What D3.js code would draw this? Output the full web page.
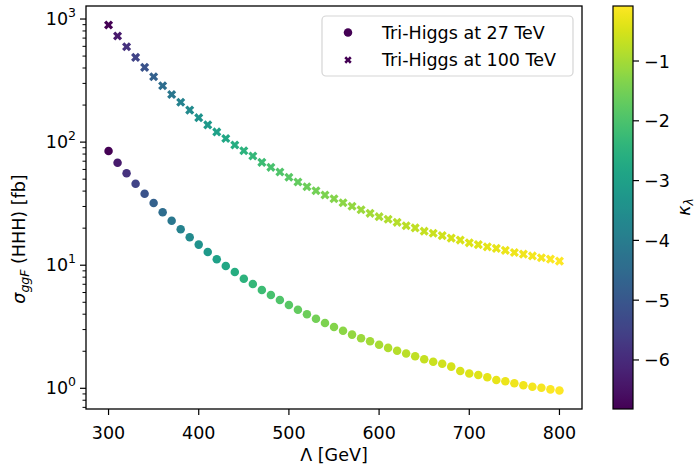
<!DOCTYPE html>
<html>
<head>
<script src="https://d3js.org/d3.v7.min.js"></script>
<style>
  body { margin: 0; background: #fff; }
  svg text { font-family: "DejaVu Sans", sans-serif; fill: #000; }
</style>
</head>
<body>
<svg id="chart"></svg>
<script>
// Λ values (GeV)
const lambdaVals = [300, 310, 320, 330, 340, 350, 360, 370, 380, 390, 400, 410, 420, 430, 440, 450, 460, 470, 480, 490,
  500, 510, 520, 530, 540, 550, 560, 570, 580, 590, 600, 610, 620, 630, 640, 650, 660, 670, 680, 690,
  700, 710, 720, 730, 740, 750, 760, 770, 780, 790, 800];

// κλ colour values
const kappaVals = [-6.82, -6.32, -5.87, -5.46, -5.09, -4.75, -4.43, -4.14, -3.87, -3.63, -3.40, -3.19, -2.99, -2.81, -2.64, -2.48, -2.33, -2.19, -2.05, -1.93,
  -1.82, -1.71, -1.60, -1.51, -1.41, -1.33, -1.24, -1.17, -1.09, -1.02, -0.96, -0.89, -0.83, -0.77, -0.72, -0.67, -0.62, -0.57, -0.52, -0.48,
  -0.44, -0.40, -0.36, -0.32, -0.29, -0.25, -0.22, -0.19, -0.16, -0.13, -0.08];

// σ(HHH) at 27 TeV [fb]
const sigma27 = [84.7, 68.0, 55.8, 45.9, 38.1, 32.0, 26.9, 23.0, 19.6, 16.9, 14.7, 12.8, 11.2, 9.86, 8.81, 7.77, 7.03, 6.29, 5.73, 5.21,
  4.75, 4.35, 3.99, 3.68, 3.39, 3.15, 2.94, 2.73, 2.55, 2.41, 2.26, 2.13, 2.02, 1.92, 1.82, 1.72, 1.64, 1.58, 1.50, 1.38,
  1.32, 1.28, 1.23, 1.17, 1.14, 1.10, 1.06, 1.03, 1.01, 0.98, 0.96];

// σ(HHH) at 100 TeV [fb]
const sigma100 = [895, 728, 596, 488, 405, 340, 287, 244, 211, 182, 158, 138, 121, 107, 94.7, 85.1, 77.1, 68.5, 62.4, 57.2,
  51.8, 47.4, 43.4, 40.3, 37.2, 34.7, 32.2, 30.1, 28.2, 26.4, 24.8, 23.6, 22.3, 20.9, 20.1, 18.9, 18.2, 17.4, 16.6, 16.0,
  15.2, 14.7, 14.1, 13.7, 13.2, 12.7, 12.3, 11.9, 11.5, 11.2, 10.8];

const xTicks = [300, 400, 500, 600, 700, 800];
const yTicks = [1, 10, 100, 1000];
const yTickExp = ["0", "1", "2", "3"];
const cbarTicks = [-1, -2, -3, -4, -5, -6];
const legendLabels = ["Tri-Higgs at 27 TeV", "Tri-Higgs at 100 TeV"];

const W = 697, H = 465;
const m = { left: 86, right: 582, top: 6, bottom: 409 };
const cb = { left: 613, right: 633 };
const fs = 17.5;

const svg = d3.select("#chart").attr("width", W).attr("height", H);

const x = d3.scaleLinear().domain([275, 825]).range([m.left, m.right]);
const y = d3.scaleLog().domain([0.679, 1276]).range([m.bottom, m.top]);
const color = d3.scaleSequential(d3.interpolateViridis).domain(d3.extent(kappaVals));
const cy = d3.scaleLinear().domain(d3.extent(kappaVals)).range([m.bottom, m.top]);

// points
const circle = d3.symbol().type(d3.symbolCircle).size(57);
const cross = d3.symbol().type(d3.symbolCross).size(52);

const plot = svg.append("g");
plot.selectAll("path.c27")
  .data(lambdaVals)
  .enter().append("path")
  .attr("class", "c27")
  .attr("d", circle)
  .attr("transform", (d, i) => "translate(" + x(d) + "," + y(sigma27[i]) + ")")
  .attr("fill", (d, i) => color(kappaVals[i]));

plot.selectAll("path.c100")
  .data(lambdaVals)
  .enter().append("path")
  .attr("class", "c100")
  .attr("d", cross)
  .attr("transform", (d, i) => "translate(" + x(d) + "," + y(sigma100[i]) + ") rotate(45)")
  .attr("fill", (d, i) => color(kappaVals[i]));

// x axis ticks
const gx = svg.append("g");
xTicks.forEach(t => {
  gx.append("line").attr("x1", x(t)).attr("x2", x(t)).attr("y1", m.bottom).attr("y2", m.bottom + 6)
    .attr("stroke", "#000").attr("stroke-width", 1.2);
  gx.append("text").attr("x", x(t)).attr("y", 439).attr("text-anchor", "middle")
    .style("font-size", fs + "px").text(t);
});
svg.append("text").attr("x", (m.left + m.right) / 2).attr("y", 461).attr("text-anchor", "middle")
  .style("font-size", fs + "px").text("Λ [GeV]");

// y axis ticks (log)
const gy = svg.append("g");
yTicks.forEach((t, i) => {
  gy.append("line").attr("x1", m.left - 6).attr("x2", m.left).attr("y1", y(t)).attr("y2", y(t))
    .attr("stroke", "#000").attr("stroke-width", 1.2);
  const tx = gy.append("text").attr("x", m.left - 10).attr("y", y(t) + 6).attr("text-anchor", "end")
    .style("font-size", fs + "px");
  tx.append("tspan").text("10");
  tx.append("tspan").attr("dy", -8).style("font-size", "12.5px").text(yTickExp[i]);
});
const minor = [];
[0.1, 1, 10, 100].forEach(dec => {
  for (let k = 2; k <= 9; k++) {
    const v = dec * k;
    if (v >= y.domain()[0] && v <= y.domain()[1]) minor.push(v);
  }
});
gy.selectAll("line.minor").data(minor).enter().append("line")
  .attr("x1", m.left - 3.5).attr("x2", m.left).attr("y1", d => y(d)).attr("y2", d => y(d))
  .attr("stroke", "#000").attr("stroke-width", 1);

const yl = svg.append("text").attr("transform", "translate(25,239) rotate(-90)").attr("text-anchor", "middle")
  .style("font-size", fs + "px");
yl.append("tspan").style("font-style", "italic").text("σ");
yl.append("tspan").attr("dy", 4).style("font-style", "italic").style("font-size", "12.5px").text("ggF");
yl.append("tspan").attr("dy", -4).text(" (HHH) [fb]");

// frame
svg.append("rect").attr("x", m.left).attr("y", m.top).attr("width", m.right - m.left).attr("height", m.bottom - m.top)
  .attr("fill", "none").attr("stroke", "#000").attr("stroke-width", 1.3);

// legend
const lg = svg.append("g");
lg.append("rect").attr("x", 322).attr("y", 16).attr("width", 251).attr("height", 60).attr("rx", 4)
  .attr("fill", "#fff").attr("fill-opacity", 0.8).attr("stroke", "#d5d5d5").attr("stroke-width", 1.2);
lg.append("path").attr("d", circle).attr("transform", "translate(348,32.5)").attr("fill", color(kappaVals[0]));
lg.append("path").attr("d", d3.symbol().type(d3.symbolCross).size(34)).attr("transform", "translate(348,60) rotate(45)")
  .attr("fill", color(kappaVals[0]));
legendLabels.forEach((l, i) => {
  lg.append("text").attr("x", 382).attr("y", 38.5 + i * 27.5).style("font-size", fs + "px").text(l);
});

// colour bar
const grad = svg.append("defs").append("linearGradient").attr("id", "vir")
  .attr("x1", "0").attr("y1", "1").attr("x2", "0").attr("y2", "0");
d3.range(0, 1.0001, 0.02).forEach(f => {
  grad.append("stop").attr("offset", f).attr("stop-color", d3.interpolateViridis(f));
});
svg.append("rect").attr("x", cb.left).attr("y", m.top).attr("width", cb.right - cb.left).attr("height", m.bottom - m.top)
  .attr("fill", "url(#vir)").attr("stroke", "#000").attr("stroke-width", 1.2);
cbarTicks.forEach(t => {
  svg.append("line").attr("x1", cb.right).attr("x2", cb.right + 6).attr("y1", cy(t)).attr("y2", cy(t))
    .attr("stroke", "#000").attr("stroke-width", 1.2);
  svg.append("text").attr("x", 644).attr("y", cy(t) + 6.5).style("font-size", fs + "px")
    .text("\u2212" + Math.abs(t));
});
const kl = svg.append("text").attr("transform", "translate(690,207) rotate(-90)").attr("text-anchor", "middle")
  .style("font-size", fs + "px");
kl.append("tspan").style("font-style", "italic").text("κ");
kl.append("tspan").attr("dy", 3).style("font-style", "italic").style("font-size", "12.5px").text("λ");
</script>
</body>
</html>
